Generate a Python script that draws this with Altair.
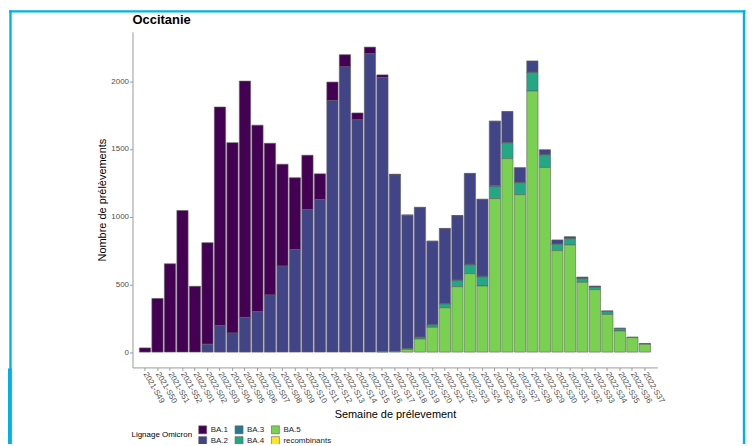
import altair as alt
import pandas as pd

weeks = ["2021-S49", "2021-S50", "2021-S51", "2021-S52",
         "2022-S01", "2022-S02", "2022-S03", "2022-S04", "2022-S05", "2022-S06",
         "2022-S07", "2022-S08", "2022-S09", "2022-S10", "2022-S11", "2022-S12",
         "2022-S13", "2022-S14", "2022-S15", "2022-S16", "2022-S17", "2022-S18",
         "2022-S19", "2022-S20", "2022-S21", "2022-S22", "2022-S23", "2022-S24",
         "2022-S25", "2022-S26", "2022-S27", "2022-S28", "2022-S29", "2022-S30",
         "2022-S31", "2022-S32", "2022-S33", "2022-S34", "2022-S35", "2022-S36",
         "2022-S37"]

ba1 = [31, 396, 652, 1045, 486, 750, 1614, 1405, 1744, 1377, 1119, 752, 530, 401,
       190, 137, 90, 51, 49, 19, 6, 4, 3, 3, 3, 2, 2, 1, 1, 1,
       0, 0, 0, 0, 0, 0, 0, 0, 0, 0, 0]
ba2 = [0, 0, 0, 0, 0, 58, 195, 141, 256, 298, 422, 635, 757, 1052, 1126, 1856,
       2105, 1714, 2202, 2024, 1302, 985, 955, 615, 551, 474, 668, 566, 475, 228,
       109, 83, 36, 30, 12, 10, 8, 5, 5, 1, 3]
ba3 = [0] * 22 + [2, 3, 4, 5, 6, 8, 6, 4, 3, 3, 3, 2, 2, 2, 1, 1, 0, 0, 0]
ba4 = [0] * 21 + [4, 12, 16, 28, 44, 64, 65, 89, 114, 88, 136, 92, 47, 47, 27,
                  18, 21, 17, 2, 2]
ba5 = [0] * 19 + [3, 5, 20, 97, 183, 327, 483, 579, 488, 1133, 1428, 1162, 1927,
                  1363, 749, 791, 515, 461, 278, 156, 107, 58]
recomb = [0] * 41

lineages = ["BA.1", "BA.2", "BA.3", "BA.4", "BA.5", "recombinants"]
series = [ba1, ba2, ba3, ba4, ba5, recomb]
palette = ["#440154", "#414487", "#2A788E", "#22A884", "#7AD151", "#FDE725"]

rows = []
for i, (lin, vals) in enumerate(zip(lineages, series)):
    for w, v in zip(weeks, vals):
        if v > 0:
            rows.append({"week": w, "lineage": lin, "n": v, "ord": len(lineages) - 1 - i})
df = pd.DataFrame(rows)

FONT = "Liberation Sans"
CYAN = "#00B2E3"

bars = alt.Chart(df).mark_bar(stroke="#5e5e5e", strokeWidth=0.6).encode(
    x=alt.X("week:N", sort=weeks,
            scale=alt.Scale(paddingInner=0.1, paddingOuter=0.55),
            axis=alt.Axis(title="Semaine de prélevement", labelAngle=60,
                          labelAlign="left", labelBaseline="middle",
                          labelPadding=2, labelFontSize=8, labelColor="#4D4D4D",
                          tickSize=3, titleFontSize=11, titleFontWeight="normal",
                          titleColor="#000000", titlePadding=4)),
    y=alt.Y("n:Q", stack="zero",
            scale=alt.Scale(domain=[-113, 2364], nice=False, zero=False),
            axis=alt.Axis(title="Nombre de prélèvements", values=[0, 500, 1000, 1500, 2000],
                          format="d", grid=False, labelFontSize=8, labelColor="#4D4D4D",
                          labelPadding=1, tickSize=3, titleFontSize=11,
                          titleFontWeight="normal", titleColor="#000000",
                          titlePadding=3)),
    fill=alt.Fill("lineage:N",
                  scale=alt.Scale(domain=lineages, range=palette),
                  legend=alt.Legend(title="Lignage Omicron", orient="none",
                                    legendX=-1, legendY=395, columns=3,
                                    titleOrient="left", titleAnchor="middle",
                                    titleBaseline="middle", titlePadding=6,
                                    titleFontSize=8, titleFontWeight="normal",
                                    titleColor="#000000", labelFontSize=8,
                                    labelColor="#1a1a1a", labelOffset=3.5,
                                    columnPadding=5.5, rowPadding=0,
                                    symbolType="square", symbolSize=64,
                                    symbolStrokeColor="#5e5e5e",
                                    symbolStrokeWidth=0.6, padding=0)),
    order=alt.Order("ord:Q", sort="ascending"),
)

frame_data = alt.Data(values=[{"k": 1}])
top_line = alt.Chart(frame_data).mark_rect(color=CYAN).encode(
    x=alt.value(-124), x2=alt.value(615.3), y=alt.value(-21.7), y2=alt.value(-19.3))
left_line = alt.Chart(frame_data).mark_rect(color=CYAN).encode(
    x=alt.value(-123.7), x2=alt.value(-121.3), y=alt.value(-21.7), y2=alt.value(420))
right_line = alt.Chart(frame_data).mark_rect(color=CYAN).encode(
    x=alt.value(612.8), x2=alt.value(615.3), y=alt.value(-21.7), y2=alt.value(420))
left_block = alt.Chart(frame_data).mark_rect(color=CYAN).encode(
    x=alt.value(-126), x2=alt.value(-121.3), y=alt.value(338), y2=alt.value(420))

chart = alt.layer(top_line, left_line, right_line, left_block, bars).properties(
    width=527, height=337,
    padding={"left": 125, "top": 23, "right": 89, "bottom": 76},
    autosize=alt.AutoSizeParams(type="none"),
    title=alt.TitleParams("Occitanie", anchor="start", frame="group",
                          fontSize=13, fontWeight="bold", color="#000000",
                          font=FONT, offset=-17),
).configure(font=FONT).configure_view(stroke="transparent").configure_axis(
    domainColor="#9a9a9a", tickColor="#9a9a9a", domainWidth=1, tickWidth=1,
    labelFont=FONT, titleFont=FONT,
).configure_legend(labelFont=FONT, titleFont=FONT)

chart.save("out.html", embed_options={"renderer": "svg", "actions": False})
